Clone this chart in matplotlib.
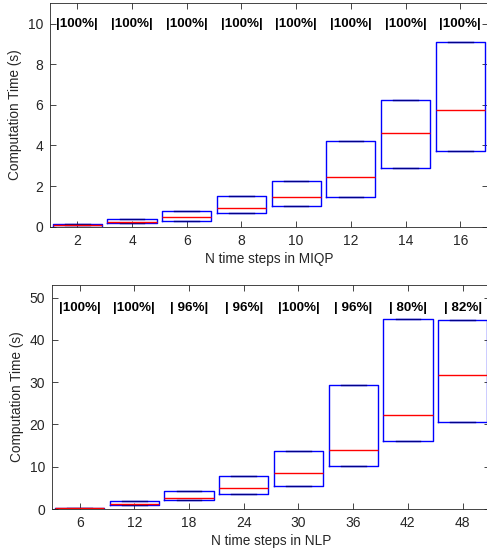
import matplotlib
matplotlib.use('Agg')
from matplotlib import pyplot as plt

plt.rcParams['font.family'] = ['Liberation Sans', 'DejaVu Sans']

#########################################################
### Data

miqp_n = [2, 4, 6, 8, 10, 12, 14, 16]
miqp_q1 = [0.00, 0.17, 0.30, 0.66, 1.02, 1.45, 2.88, 3.74]
miqp_med = [0.07, 0.25, 0.49, 0.91, 1.48, 2.47, 4.63, 5.75]
miqp_q3 = [0.13, 0.38, 0.79, 1.53, 2.26, 4.22, 6.26, 9.08]
miqp_pct = ['|100%|'] * 8

nlp_n = [6, 12, 18, 24, 30, 36, 42, 48]
nlp_q1 = [0.05, 0.88, 2.14, 3.5, 5.5, 10.2, 16.1, 20.6]
nlp_med = [0.2, 1.1, 2.7, 4.9, 8.6, 13.9, 22.3, 31.7]
nlp_q3 = [0.35, 1.83, 4.27, 7.9, 13.8, 29.4, 44.9, 44.7]
nlp_pct = ['|100%|', '|100%|', '| 96%|', '| 96%|', '|100%|', '| 96%|', '| 80%|', '| 82%|']

#########################################################

GREY = '#262626'

def draw_panel(ax, n, q1, med, q3, pct, step, ylim, yticks, pct_y, xlabel):
    """MATLAB style boxplot: whiskers collapsed onto box edges"""
    stats = []
    for i in range(len(n)):
        stats.append({'q1': q1[i], 'med': med[i], 'q3': q3[i],
                      'whislo': q1[i], 'whishi': q3[i], 'fliers': []})
    ax.bxp(stats, positions=n, widths=0.9 * step, showfliers=False,
           capwidths=0.45 * step,
           boxprops=dict(color='#0000ff', linewidth=1.0),
           whiskerprops=dict(color='#0000ff', linewidth=1.0),
           capprops=dict(color='#00008b', linewidth=1.0),
           medianprops=dict(color='#ff0000', linewidth=1.0))
    for i in range(len(n)):
        ax.text(n[i], pct_y, pct[i], ha='center', va='center',
                fontsize=9.6, fontweight='bold', color='black')
    ax.set_xlim(n[0] - step / 2, n[-1] + step / 2)
    ax.set_ylim(ylim)
    ax.set_xticks(n)
    ax.set_xticklabels([str(v) for v in n])
    ax.set_yticks(yticks)
    ax.tick_params(direction='in', top=True, right=True, length=4,
                   width=0.6, colors=GREY, labelsize=10, pad=5)
    for s in ax.spines.values():
        s.set_color(GREY)
        s.set_linewidth(0.6)
    ax.set_xlabel(xlabel, fontsize=9.8, color=GREY, labelpad=3)
    ax.set_ylabel('Computation Time (s)', fontsize=9.8, color=GREY, labelpad=4)

fig = plt.figure(figsize=(4.87, 5.5), dpi=100)
ax1 = fig.add_axes([0.1027, 0.5878, 0.8985, 0.4062])
ax2 = fig.add_axes([0.1074, 0.0745, 0.8987, 0.4073])

draw_panel(ax1, miqp_n, miqp_q1, miqp_med, miqp_q3, miqp_pct, 2,
           (0, 11), [0, 2, 4, 6, 8, 10], 10.0, 'N time steps in MIQP')
draw_panel(ax2, nlp_n, nlp_q1, nlp_med, nlp_q3, nlp_pct, 6,
           (0, 53), [0, 10, 20, 30, 40, 50], 47.6, 'N time steps in NLP')

fig.savefig('out.png', dpi=100)
